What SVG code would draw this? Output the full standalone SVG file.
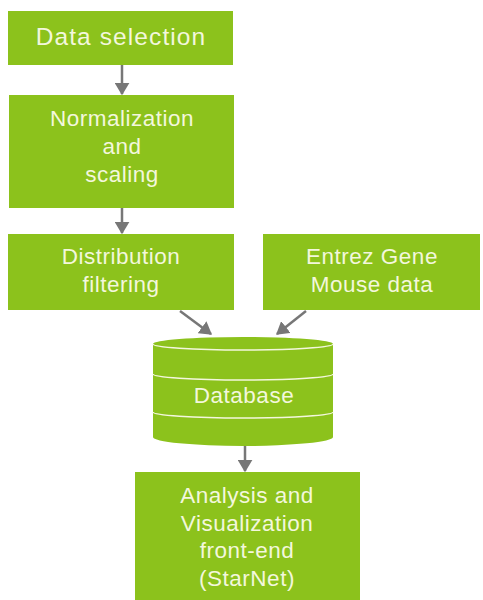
<svg xmlns="http://www.w3.org/2000/svg" width="483" height="600" viewBox="0 0 483 600">
<defs>
<style>
.box{fill:#8cc21c}
.t{font-family:"Liberation Sans",Arial,sans-serif;font-size:22.5px;letter-spacing:0.5px;fill:#f3f7dc;text-anchor:middle}
.c{stroke:#777777;stroke-width:2.5;fill:none}
.band{stroke:#f3f7dc;stroke-width:1.5;fill:none}
</style>
<marker id="ah" markerWidth="5" markerHeight="6" refX="4.5" refY="3" orient="auto" markerUnits="strokeWidth">
<path d="M0,0 L5,3 L0,6 z" fill="#777777"/>
</marker>
</defs>
<rect width="483" height="600" fill="#ffffff"/>
<g id="connectors">
<line class="c" x1="122" y1="65" x2="122" y2="94" marker-end="url(#ah)"/>
<line class="c" x1="122" y1="208" x2="122" y2="233" marker-end="url(#ah)"/>
<line class="c" x1="180" y1="311" x2="211" y2="334" marker-end="url(#ah)"/>
<line class="c" x1="306" y1="311" x2="277" y2="334" marker-end="url(#ah)"/>
<line class="c" x1="245" y1="446" x2="245" y2="471" marker-end="url(#ah)"/>
</g>
<g id="data-selection">
<rect class="box" x="8" y="11" width="225" height="54"/>
<text class="t" x="121" y="45" style="font-size:24.5px;letter-spacing:1.1px">Data selection</text>
</g>
<g id="normalization">
<rect class="box" x="9" y="95" width="225" height="113"/>
<text class="t" x="122" y="126">Normalization</text>
<text class="t" x="122" y="154">and</text>
<text class="t" x="122" y="182">scaling</text>
</g>
<g id="distribution">
<rect class="box" x="8" y="234" width="226" height="76"/>
<text class="t" x="121" y="264">Distribution</text>
<text class="t" x="121" y="292">filtering</text>
</g>
<g id="entrez">
<rect class="box" x="263" y="234" width="217" height="76"/>
<text class="t" x="372" y="264">Entrez Gene</text>
<text class="t" x="372" y="292">Mouse data</text>
</g>
<g id="database">
<path class="box" d="M153,344 A90,7 0 0 1 333,344 L333,437 A90,9 0 0 1 153,437 Z"/>
<path class="band" d="M153,344 A90,6 0 0 0 333,344"/>
<path class="band" d="M153,374 A90,6 0 0 0 333,374"/>
<path class="band" d="M153,412 A90,6 0 0 0 333,412"/>
<text class="t" x="244" y="403">Database</text>
</g>
<g id="analysis">
<rect class="box" x="135" y="472" width="225" height="128"/>
<text class="t" x="247" y="503">Analysis and</text>
<text class="t" x="247" y="531">Visualization</text>
<text class="t" x="247" y="558">front-end</text>
<text class="t" x="247" y="586">(StarNet)</text>
</g>
</svg>
